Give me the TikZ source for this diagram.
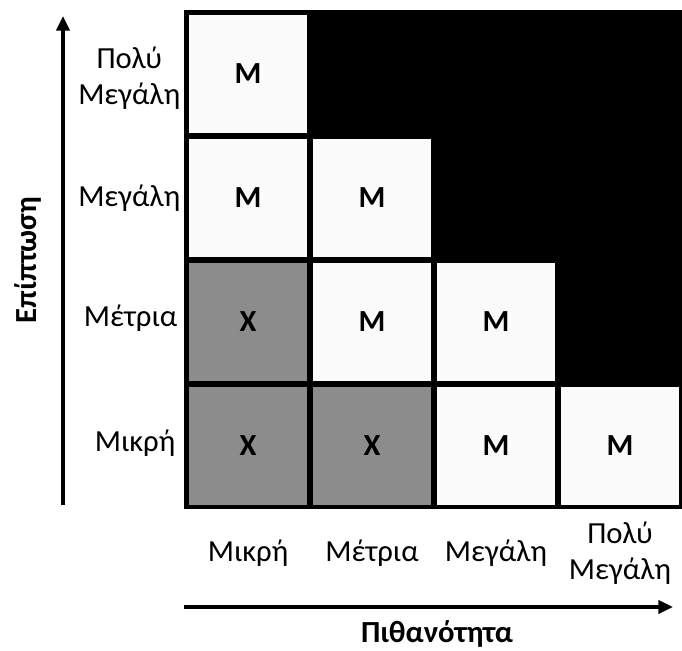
\documentclass[tikz,border=0pt]{standalone}
\usepackage{fontspec}
\setmainfont{Carlito}
\usepackage{tikz}
\usetikzlibrary{arrows.meta}

\begin{document}
\begin{tikzpicture}[x=0.75pt,y=-0.75pt,>={Triangle[length=11pt,width=10pt]},
  cell/.style={minimum size=88pt,inner sep=0pt,font=\fontsize{23}{25}\selectfont\bfseries},
  low/.style={cell,fill=black!45},
  mid/.style={cell,fill=gray!4},
  lab/.style={font=\fontsize{23}{27}\selectfont,align=center}]
\useasboundingbox (0,0) rectangle (682,650);

% Φόντο του πίνακα
\fill[black] (184,10) rectangle (682,509);

% Κελιά
\node [mid] (polymikri) at (248,74) {Μ};
\node [mid] (megmikri) at (248,198) {Μ};
\node [mid] (megmetria) at (372,198) {Μ};
\node [low] (metmikri) at (248,322) {Χ};
\node [mid] (metmetria) at (372,322) {Μ};
\node [mid] (metmegali) at (496,322) {Μ};
\node [low] (mikmikri) at (248,446) {Χ};
\node [low] (mikmetria) at (372,446) {Χ};
\node [mid] (mikmegali) at (496,446) {Μ};
\node [mid] (mikpoly) at (620,446) {Μ};

% Ετικέτες γραμμών
\node [lab,anchor=east] (rpoly) at (185,78) {Πολύ\\Μεγάλη};
\node [lab,anchor=east] (rmegali) at (185,198) {Μεγάλη};
\node [lab,anchor=east] (rmetria) at (182,318) {Μέτρια};
\node [lab,anchor=east] (rmikri) at (180,443) {Μικρή};

% Ετικέτες στηλών
\node [lab] (cmikri) at (248,553) {Μικρή};
\node [lab] (cmetria) at (372,553) {Μέτρια};
\node [lab] (cmegali) at (496,553) {Μεγάλη};
\node [lab] (cpoly) at (620,553) {Πολύ\\Μεγάλη};

% Άξονες
\coordinate (ybot) at (63,505);
\coordinate (ytop) at (63,16);
\coordinate (xleft) at (184,607);
\coordinate (xright) at (673,607);
\draw[->,line width=2.4pt] (ybot) -- (ytop);
\draw[->,line width=2.4pt] (xleft) -- (xright);
\node [lab,font=\fontsize{23}{27}\selectfont\bfseries,rotate=90] (impact) at (28,260) {Επίπτωση};
\node [lab,font=\fontsize{23}{27}\selectfont\bfseries,inner sep=1pt] (prob) at (437,634) {Πιθανότητα};
\end{tikzpicture}
\end{document}
